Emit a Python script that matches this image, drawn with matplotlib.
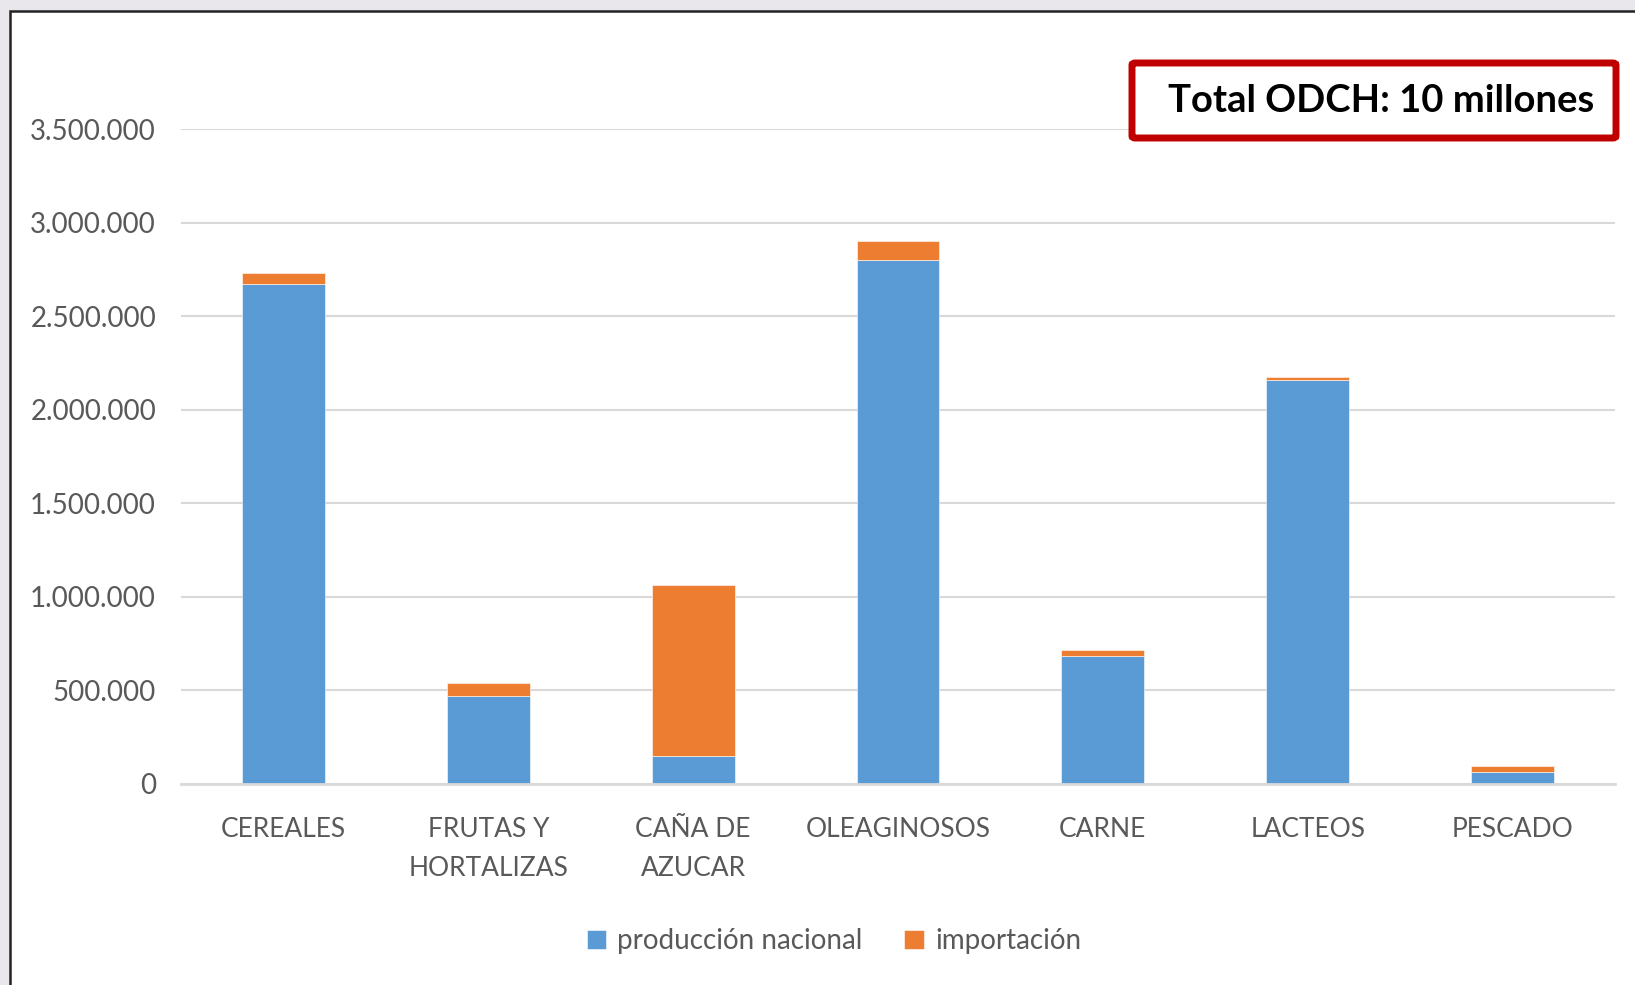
import matplotlib
matplotlib.use("Agg")
import matplotlib.pyplot as plt
from matplotlib.patches import Rectangle, FancyBboxPatch
from matplotlib.ticker import FuncFormatter

# data
categorias = ["CEREALES", "FRUTAS Y\nHORTALIZAS", "CAÑA DE\nAZUCAR", "OLEAGINOSOS",
              "CARNE", "LACTEOS", "PESCADO"]
produccion_nacional = [2670000, 470000, 150000, 2800000, 685000, 2160000, 62000]
importacion = [60000, 68000, 912000, 100000, 32000, 15000, 32000]
y_ticks = [0, 500000, 1000000, 1500000, 2000000, 2500000, 3000000, 3500000]

azul = "#5b9bd5"
naranja = "#ed7d31"
gris_texto = "#595959"

plt.rcParams["font.family"] = ["Lato", "DejaVu Sans"]

W, H = 1635, 985
fig = plt.figure(figsize=(W / 100, H / 100), dpi=100)
fig.patch.set_facecolor("#e9e7eb")

# white chart area with dark border (open to right/bottom)
fig.patches.append(Rectangle((10 / W, -0.05), 1.1, 1 - 11 / H + 0.05,
                             transform=fig.transFigure, facecolor="white",
                             edgecolor="#222222", linewidth=1.8, zorder=-5))

ax = fig.add_axes([181 / W, (H - 784) / H, 1434 / W, 655 / H])
ax.set_facecolor("none")
ax.set_zorder(2)

x = range(len(categorias))
ax.bar(x, produccion_nacional, width=0.405, color=azul, label="producción nacional",
       edgecolor="white", linewidth=0.4, zorder=3)
ax.bar(x, importacion, width=0.405, bottom=produccion_nacional, color=naranja,
       label="importación", edgecolor="white", linewidth=0.4, zorder=3)

ax.set_xlim(-0.5, len(categorias) - 0.5)
ax.set_ylim(0, 3500000)
ax.set_yticks(y_ticks)
ax.yaxis.set_major_formatter(FuncFormatter(lambda v, p: f"{int(v):,}".replace(",", ".")))
ax.set_xticks(list(x))
ax.set_xticklabels(categorias, linespacing=1.7)

ax.grid(axis="y", color="#d9d9d9", linewidth=1.5, zorder=0)
ax.set_axisbelow(True)
for s in ["top", "right", "left"]:
    ax.spines[s].set_visible(False)
ax.spines["bottom"].set_color("#d9d9d9")
ax.spines["bottom"].set_linewidth(2)
ax.spines["bottom"].set_zorder(4)
ax.tick_params(axis="y", length=0, pad=18, labelsize=20, labelcolor=gris_texto)
ax.tick_params(axis="x", length=0, pad=24, labelsize=19, labelcolor=gris_texto)

# legend
leg = fig.legend(loc="center", bbox_to_anchor=(834 / W, 1 - 941 / H), ncol=2,
                 frameon=False, fontsize=20, handlelength=0.7, handleheight=0.7,
                 handletextpad=0.4, columnspacing=1.5)
for t in leg.get_texts():
    t.set_color(gris_texto)

# red annotation box
fig.patches.append(FancyBboxPatch((1132 / W, 1 - 138 / H), 484 / W, 75 / H,
                                  boxstyle="round,pad=0,rounding_size=0.002",
                                  transform=fig.transFigure, facecolor="white",
                                  edgecolor="#c00000", linewidth=5, zorder=5))
fig.text(1594 / W, 1 - 101 / H, "Total ODCH: 10 millones", ha="right", va="center",
         fontsize=27.5, fontweight="bold", color="black", zorder=6)

fig.savefig("out.png", dpi=100, facecolor=fig.get_facecolor())
